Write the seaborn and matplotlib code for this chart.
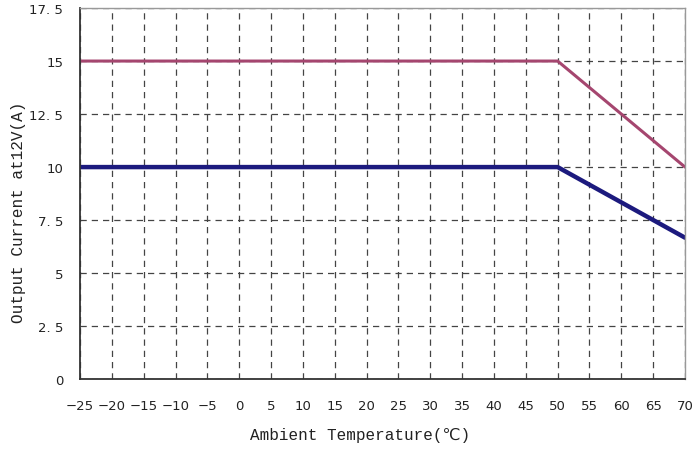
import matplotlib
matplotlib.use("Agg")
import matplotlib.pyplot as plt
import seaborn as sns
import pandas as pd

temps = [-25, 50, 70]
current_high = [15, 15, 10]
current_low = [10, 10, 6.67]
x_ticks = list(range(-25, 71, 5))
y_ticks = [0, 2.5, 5, 7.5, 10, 12.5, 15, 17.5]
y_labels = ["0", "2. 5", "5", "7. 5", "10", "12. 5", "15", "17. 5"]

sns.set_style("white")
plt.rcParams['font.family'] = ['DejaVu Sans']

df = pd.DataFrame({"t": temps + temps,
                   "a": current_high + current_low,
                   "s": ["high"] * 3 + ["low"] * 3})

fig = plt.figure(figsize=(6.93, 4.52), dpi=100)
ax = fig.add_axes([0.1154, 0.159, 0.8731, 0.821])

sns.lineplot(data=df[df.s == "high"], x="t", y="a", color="#A5466F", linewidth=2.2, ax=ax)
sns.lineplot(data=df[df.s == "low"], x="t", y="a", color="#1C1A7E", linewidth=3.2, ax=ax)

ax.set_xlim(-25, 70)
ax.set_ylim(0, 17.5)
ax.set_xticks(x_ticks)
ax.set_yticks(y_ticks)
ax.set_yticklabels(y_labels)
ax.tick_params(axis="x", length=0, pad=14, labelsize=9.5, colors="#222222")
ax.tick_params(axis="y", length=0, pad=12, labelsize=9.5, colors="#222222")
ax.grid(True, linestyle=(0, (5, 4)), color="#444444", linewidth=0.9)
ax.set_axisbelow(True)

for side in ["left", "bottom"]:
    ax.spines[side].set_color("#333333")
    ax.spines[side].set_linewidth(1.3)
for side in ["top", "right"]:
    ax.spines[side].set_color("#999999")
    ax.spines[side].set_linewidth(1.0)

ax.set_xlabel("Ambient Temperature(℃)", family=["Liberation Mono", "DejaVu Sans"],
              fontsize=11.5, color="#222222")
ax.set_ylabel("Output Current at12V(A)", family=["Liberation Mono", "DejaVu Sans"],
              fontsize=11.5, color="#222222")
ax.xaxis.set_label_coords(0.463, -0.128)
ax.yaxis.set_label_coords(-0.09, 0.453)

fig.savefig("out.png", dpi=100)
